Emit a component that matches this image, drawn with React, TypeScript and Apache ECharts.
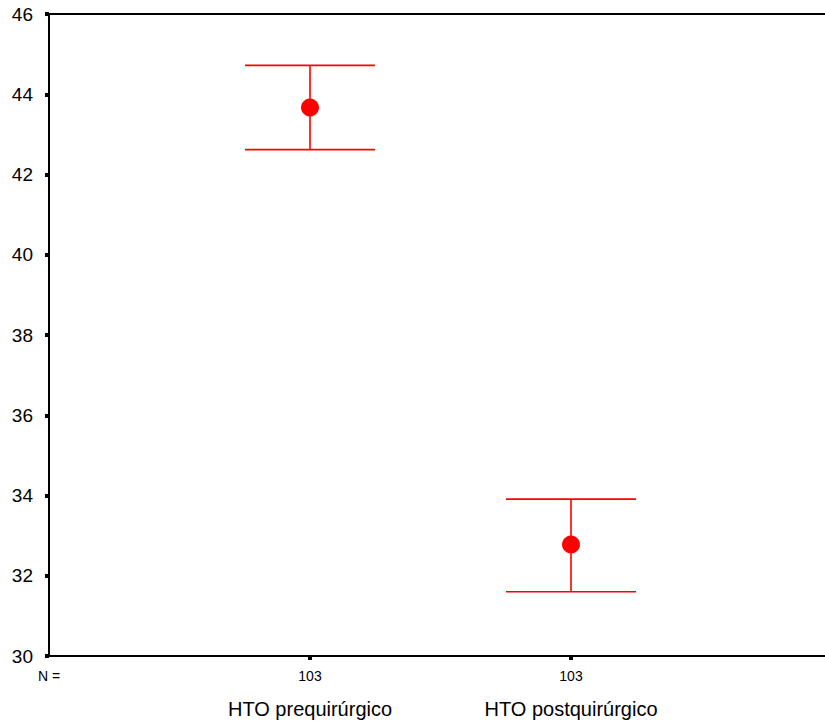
import React, { useEffect, useRef } from "react";
import * as echarts from "echarts";

const groups = ["HTO prequirúrgico", "HTO postquirúrgico"];
const nCounts = [103, 103];
const means = [43.67, 32.78];
const lows = [42.62, 31.6];
const highs = [44.72, 33.91];
const yMin = 30;
const yMax = 46;
const yStep = 2;

const FONT = "'Liberation Sans', Arial, sans-serif";

export default function App() {
  const ref = useRef<HTMLDivElement>(null);
  useEffect(() => {
    if (!ref.current) return;
    const chart = echarts.init(ref.current, null, { renderer: "svg" });
    const cats = ["N =", ...groups, " "];
    const errData = groups.map((_, i) => [i + 1, lows[i], highs[i]]);
    const ptData = groups.map((_, i) => [i + 1, means[i]]);
    chart.setOption({
      animation: false,
      backgroundColor: "#fff",
      grid: {
        left: 49,
        top: 14,
        right: 0,
        bottom: 69,
        show: true,
        borderColor: "#000",
        borderWidth: 2,
        backgroundColor: "transparent",
      },
      xAxis: {
        type: "category",
        data: cats,
        boundaryGap: false,
        axisLine: { show: true, lineStyle: { color: "#000", width: 2 } },
        axisTick: {
          show: true,
          length: 4,
          interval: (index: number) => index === 1 || index === 2,
          lineStyle: { color: "#000", width: 4 },
        },
        splitLine: { show: false },
        axisLabel: {
          show: true,
          showMinLabel: true,
          interval: (index: number) => index < 3,
          margin: 12,
          formatter: (_v: string, index: number) => {
            if (index === 0) return "{n|N =}";
            if (index >= 1 && index <= groups.length)
              return `{n|${nCounts[index - 1]}}\n{c|${groups[index - 1]}}`;
            return "";
          },
          rich: {
            n: {
              fontSize: 14,
              lineHeight: 16,
              fontFamily: FONT,
              color: "#000",
              verticalAlign: "middle",
            },
            c: {
              fontSize: 20,
              lineHeight: 50,
              fontFamily: FONT,
              color: "#000",
              verticalAlign: "middle",
            },
          },
        },
      },
      yAxis: {
        type: "value",
        min: yMin,
        max: yMax,
        interval: yStep,
        axisLine: { show: true, lineStyle: { color: "#000", width: 2 } },
        axisTick: { show: true, length: 4, lineStyle: { color: "#000", width: 4 } },
        splitLine: { show: false },
        axisLabel: {
          margin: 16,
          fontSize: 19,
          fontFamily: FONT,
          color: "#000",
        },
      },
      series: [
        {
          type: "custom",
          data: errData,
          encode: { x: 0, y: [1, 2] },
          z: 2,
          renderItem: (_params: any, api: any) => {
            const x = api.value(0);
            const lo = api.coord([x, api.value(1)]);
            const hi = api.coord([x, api.value(2)]);
            const hw = 65;
            const style = { stroke: "#ff0000", lineWidth: 1.6 };
            return {
              type: "group",
              children: [
                { type: "line", shape: { x1: hi[0], y1: hi[1], x2: lo[0], y2: lo[1] }, style },
                { type: "line", shape: { x1: hi[0] - hw, y1: hi[1], x2: hi[0] + hw, y2: hi[1] }, style },
                { type: "line", shape: { x1: lo[0] - hw, y1: lo[1], x2: lo[0] + hw, y2: lo[1] }, style },
              ],
            };
          },
        },
        {
          type: "scatter",
          data: ptData,
          symbol: "circle",
          symbolSize: 18,
          z: 3,
          itemStyle: { color: "#ff0000", opacity: 1 },
        },
      ],
    });
    return () => chart.dispose();
  }, []);
  return (
    <div
      style={{
        position: "fixed",
        left: 0,
        top: 0,
        width: 825,
        height: 725,
        overflow: "hidden",
        background: "#fff",
      }}
    >
      <div ref={ref} style={{ width: 832, height: 725 }} />
    </div>
  );
}
